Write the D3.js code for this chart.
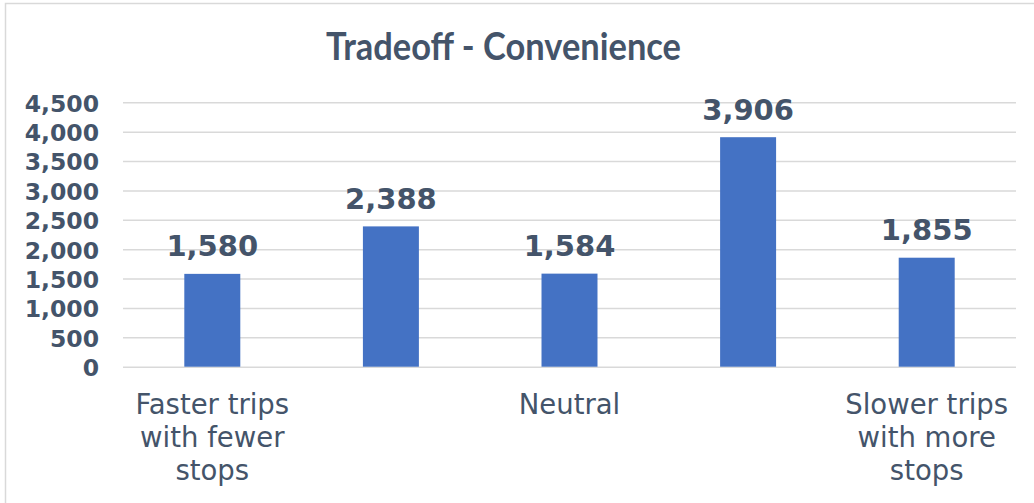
<!DOCTYPE html>
<html>
<head>
<meta charset="utf-8">
<script src="https://cdn.jsdelivr.net/npm/d3@7"></script>
<style>
  html, body { margin: 0; padding: 0; background: #fff; }
  svg { display: block; }
</style>
</head>
<body>
<div id="chart"></div>
<script>
// chart data
const categories = ['Faster trips with fewer stops', 'c2', 'Neutral', 'c4', 'Slower trips with more stops']
const categoryLabels = [
  ['Faster trips', 'with fewer', 'stops'],
  [],
  ['Neutral'],
  [],
  ['Slower trips', 'with more', 'stops']
]
const values = [1580, 2388, 1584, 3906, 1855]
const yTicks = [0, 500, 1000, 1500, 2000, 2500, 3000, 3500, 4000, 4500]
const title = 'Tradeoff - Convenience'

const textColor = '#44546A'
const gridColor = '#D9D9D9'
const barColor = '#4472C4'

const W = 1034
const H = 503
const margin = { top: 102.3, left: 123, right: 18, bottom: 136.3 }
const width = W - margin.left - margin.right
const height = H - margin.top - margin.bottom

const root = d3.select('#chart')
  .append('svg')
  .attr('width', W)
  .attr('height', H)

// chart area frame (extends past the right / bottom edges)
root.append('rect')
  .attr('x', 5.5)
  .attr('y', 3.5)
  .attr('width', W + 20)
  .attr('height', H + 20)
  .attr('fill', 'none')
  .attr('stroke', gridColor)
  .attr('stroke-width', 1.5)

root.append('text')
  .attr('x', 503.5)
  .attr('y', 60)
  .attr('text-anchor', 'middle')
  .attr('font-family', 'Lato, "Open Sans", sans-serif')
  .attr('font-weight', 700)
  .attr('font-size', 38)
  .attr('fill', textColor)
  .attr('textLength', 355)
  .attr('lengthAdjust', 'spacingAndGlyphs')
  .text(title)

const svg = root.append('g')
  .attr('transform', 'translate(' + margin.left + ',' + margin.top + ')')

const xPositionScale = d3.scaleBand()
  .domain(categories)
  .range([0, width])
  .paddingInner(0.6865)
  .paddingOuter(0.6865 / 2)

const yPositionScale = d3.scaleLinear()
  .domain([0, 4500])
  .range([height, 0])

// gridlines + y labels
const yAxis = d3.axisLeft(yPositionScale)
  .tickValues(yTicks)
  .tickSize(-width)
  .tickPadding(24)
  .tickFormat(d3.format(','))

svg.append('g')
  .attr('class', 'axis y-axis')
  .call(yAxis)
  .call(g => g.select('.domain').remove())
  .call(g => g.selectAll('.tick line')
    .attr('stroke', gridColor)
    .attr('stroke-width', 1.5))
  .call(g => g.selectAll('.tick text')
    .attr('fill', textColor)
    .attr('font-family', '"DejaVu Sans", Verdana, sans-serif')
    .attr('font-weight', 700)
    .attr('font-size', 23.5)
    .attr('dy', '0.38em'))

// bars
svg.selectAll('.bar')
  .data(values)
  .enter()
  .append('rect')
  .attr('class', 'bar')
  .attr('x', (d, i) => xPositionScale(categories[i]))
  .attr('y', d => yPositionScale(d))
  .attr('width', xPositionScale.bandwidth())
  .attr('height', d => height - yPositionScale(d))
  .attr('fill', barColor)

// value labels
svg.selectAll('.value-label')
  .data(values)
  .enter()
  .append('text')
  .attr('class', 'value-label')
  .attr('x', (d, i) => xPositionScale(categories[i]) + xPositionScale.bandwidth() / 2)
  .attr('y', d => yPositionScale(d) - 17.5)
  .attr('text-anchor', 'middle')
  .attr('font-family', '"DejaVu Sans", Verdana, sans-serif')
  .attr('font-weight', 700)
  .attr('font-size', 29)
  .attr('fill', textColor)
  .text(d => d3.format(',')(d))

// category labels (only every other category is labelled)
const catGroups = svg.selectAll('.cat-label')
  .data(categories)
  .enter()
  .append('text')
  .attr('class', 'cat-label')
  .attr('text-anchor', 'middle')
  .attr('font-family', '"DejaVu Sans", Verdana, sans-serif')
  .attr('font-size', 27.5)
  .attr('fill', textColor)

catGroups.selectAll('tspan')
  .data((d, i) => categoryLabels[i].map(line => ({ line: line, cat: d })))
  .enter()
  .append('tspan')
  .attr('x', d => xPositionScale(d.cat) + xPositionScale.bandwidth() / 2)
  .attr('y', (d, j) => height + 47.5 + j * 33)
  .text(d => d.line)
</script>
</body>
</html>
